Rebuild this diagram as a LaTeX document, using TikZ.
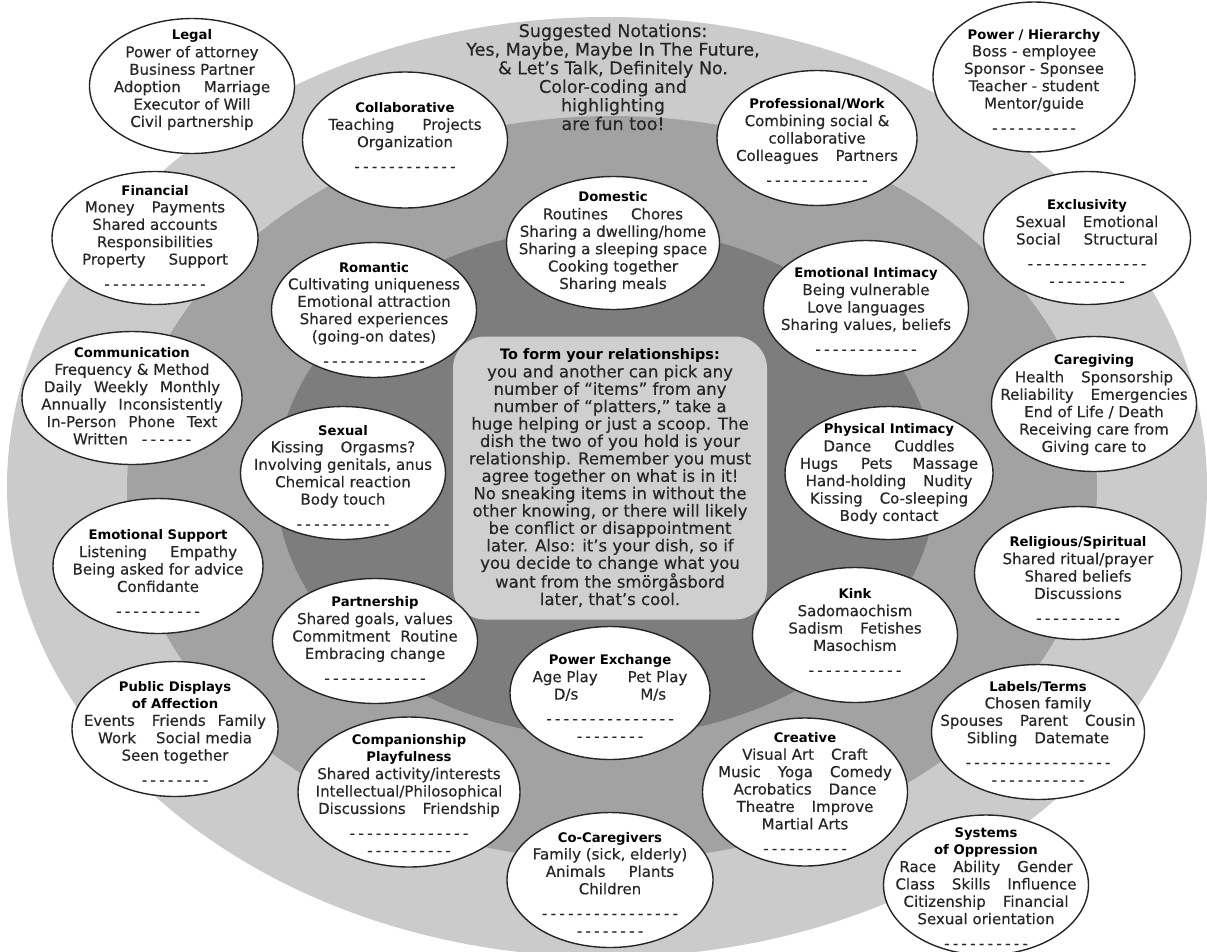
\documentclass[tikz,border=0pt]{standalone}
\usepackage{fontspec}
\setmainfont{DejaVu Sans}
\newfontfamily\bodyf{DejaVu Sans}[FakeBold=0.35]
\usetikzlibrary{shapes.geometric}
\definecolor{outerg}{RGB}{203,203,203}
\definecolor{midg}{RGB}{162,162,162}
\definecolor{innerg}{RGB}{125,125,125}
\definecolor{boxg}{RGB}{207,207,207}
\definecolor{inkc}{RGB}{38,38,38}
\ExplSyntaxOn
\NewDocumentCommand\blank{m}{\prg_replicate:nn{#1}{-\kern3.3pt}\unkern}
\ExplSyntaxOff
\newcommand\ttl[1]{{\rmfamily\fontsize{13.2}{17.4}\selectfont\bfseries\color{black}#1}}
\newcommand\gp{\hspace{17pt}}
\newcommand\gP{\hspace{23pt}}
\tikzset{
  blob/.style={ellipse, draw=inkc, line width=1.4pt, fill=white, inner sep=0pt},
  txt/.style={align=center, font=\bodyf\fontsize{15}{17.4}\selectfont, text=inkc, inner sep=0pt},
}
\newcommand\platter[7]{%
  \node[blob, minimum width=#4pt, minimum height=#5pt] (#1) at (#2,#3) {};
  \node[txt] (#1-t) at (#2,#6) {#7};}
\begin{document}
\begin{tikzpicture}[x=1pt,y=-1pt]
\useasboundingbox (0,0) rectangle (1207,951);
\clip (0,0) rectangle (1207,951);
\fill[white] (0,0) rectangle (1207,951);
\fill[outerg] (607,487) ellipse [x radius=600, y radius=470];
\fill[midg] (612,488) ellipse [x radius=485, y radius=372];
\fill[innerg] (606,482) ellipse [x radius=330, y radius=255];

\node[fill=boxg, rounded corners=32pt, minimum width=314pt, minimum height=283pt,
      inner sep=0pt, align=center, text=inkc, font=\bodyf\fontsize{16.5}{17.4}\selectfont] (dish) at (610,478)
 {{\rmfamily\fontsize{14.4}{17.4}\selectfont\bfseries\color{black}To form your relationships:}\\
  you and another can pick any\\
  number of “items” from any\\
  number of “platters,” take a\\
  huge helping or just a scoop. The\\
  dish the two of you hold is your\\
  relationship. Remember you must\\
  agree together on what is in it!\\
  No sneaking items in without the\\
  other knowing, or there will likely\\
  be conflict or disappointment\\
  later. Also: it’s your dish, so if\\
  you decide to change what you\\
  want from the smörgåsbord\\
  later, that’s cool.};

\node[align=center, text=inkc, inner sep=0pt, font=\bodyf\fontsize{17.5}{18.6}\selectfont] (notes) at (613,77)
 {Suggested Notations:\\Yes, Maybe, Maybe In The Future,\\\& Let’s Talk, Definitely No.\\Color-coding and\\highlighting\\are fun too!};

\platter{legal}{192}{86}{205}{135}{80}{\ttl{Legal}\\Power of attorney\\Business Partner\\Adoption\gP Marriage\\Executor of Will\\Civil partnership}
\platter{collab}{405}{140}{205}{136}{137}{\ttl{Collaborative}\\Teaching\hspace{28pt}Projects\\Organization\\[7pt]\blank{12}}
\platter{prof}{817}{138}{200}{135}{142}{\ttl{Professional/Work}\\Combining social \&\\collaborative\\Colleagues\gp Partners\\[7pt]\blank{12}}
\platter{power}{1034}{77}{202}{150}{81}{\ttl{Power / Hierarchy}\\Boss - employee\\Sponsor - Sponsee\\Teacher - student\\Mentor/guide\\[7pt]\blank{10}}
\platter{fin}{155}{238}{206}{133}{237}{\ttl{Financial}\\Money\gp Payments\\Shared accounts\\Responsibilities\\Property\gP Support\\[7pt]\blank{12}}
\platter{dom}{613}{243}{213}{133}{242}{\ttl{Domestic}\\Routines\gP Chores\\Sharing a dwelling/home\\Sharing a sleeping space\\Cooking together\\Sharing meals}
\platter{rom}{374}{310}{205}{135}{314}{\ttl{Romantic}\\Cultivating uniqueness\\Emotional attraction\\Shared experiences\\(going-on dates)\\[7pt]\blank{12}}
\platter{excl}{1087}{238}{207}{133}{243}{\ttl{Exclusivity}\\Sexual\gp Emotional\\Social\gP Structural\\[7pt]\blank{14}\\\blank{9}}
\platter{emoint}{866}{308}{205}{135}{311}{\ttl{Emotional Intimacy}\\Being vulnerable\\Love languages\\Sharing values, beliefs\\[7pt]\blank{12}}
\platter{comm}{132}{398}{220}{133}{396}{\ttl{Communication}\\Frequency \& Method\\Daily\hspace{12pt}Weekly\hspace{12pt}Monthly\\Annually\hspace{12pt}Inconsistently\\In-Person\hspace{12pt}Phone\hspace{12pt}Text\\Written\hspace{14pt}\blank{6}}
\platter{care}{1094}{404}{205}{135}{405}{\ttl{Caregiving}\\Health\gp Sponsorship\\Reliability\gp Emergencies\\End of Life / Death\\Receiving care from\\Giving care to}
\platter{sex}{343}{473}{205}{133}{477}{\ttl{Sexual}\\Kissing\gp Orgasms?\\Involving genitals, anus\\Chemical reaction\\Body touch\\[7pt]\blank{11}}
\platter{phys}{889}{473}{208}{133}{474}{\ttl{Physical Intimacy}\\Dance\gP Cuddles\\Hugs\gP Pets\hspace{20pt}Massage\\Hand-holding\gp Nudity\\Kissing\gp Co-sleeping\\Body contact}
\platter{emosup}{158}{566}{210}{135}{573}{\ttl{Emotional Support}\\Listening\gP Empathy\\Being asked for advice\\Confidante\\[7pt]\blank{10}}
\platter{relig}{1078}{573}{207}{133}{580}{\ttl{Religious/Spiritual}\\Shared ritual/prayer\\Shared beliefs\\Discussions\\[7pt]\blank{10}}
\platter{partner}{375}{641}{205}{125}{640}{\ttl{Partnership}\\Shared goals, values\\Commitment\hspace{10pt}Routine\\Embracing change\\[7pt]\blank{12}}
\platter{kink}{855}{635}{205}{135}{632}{\ttl{Kink}\\Sadomaochism\\Sadism\gp Fetishes\\Masochism\\[7pt]\blank{11}}
\platter{powex}{610}{693}{200}{133}{698}{\ttl{Power Exchange}\\Age Play\hspace{30pt}Pet Play\\D/s\hspace{62pt}M/s\\[7pt]\blank{15}\\\blank{8}}
\platter{pda}{175}{729}{206}{135}{733}{\ttl{Public Displays}\\\ttl{of Affection}\\Events\gp Friends\hspace{12pt}Family\\Work\hspace{20pt}Social media\\Seen together\\[7pt]\blank{8}}
\platter{labels}{1038}{732}{213}{135}{733}{\ttl{Labels/Terms}\\Chosen family\\Spouses\gp Parent\gp Cousin\\Sibling\gp Datemate\\[7pt]\blank{17}\\\blank{11}}
\platter{comp}{409}{792}{222}{150}{795}{\ttl{Companionship}\\\ttl{Playfulness}\\Shared activity/interests\\Intellectual/Philosophical\\Discussions\gp Friendship\\[7pt]\blank{14}\\\blank{10}}
\platter{creat}{805}{792}{205}{148}{793}{\ttl{Creative}\\Visual Art\gp Craft\\Music\gp Yoga\gp Comedy\\Acrobatics\gp Dance\\Theatre\gp Improve\\Martial Arts\\[7pt]\blank{10}}
\platter{cocare}{610}{880}{206}{135}{884}{\ttl{Co-Caregivers}\\Family (sick, elderly)\\Animals\gP Plants\\Children\\[7pt]\blank{16}\\\blank{8}}
\platter{sys}{986}{885}{205}{140}{888}{\ttl{Systems}\\\ttl{of Oppression}\\Race\gp Ability\gp Gender\\Class\gp Skills\gp Influence\\Citizenship\gp Financial\\Sexual orientation\\[7pt]\blank{10}}
\end{tikzpicture}
\end{document}
